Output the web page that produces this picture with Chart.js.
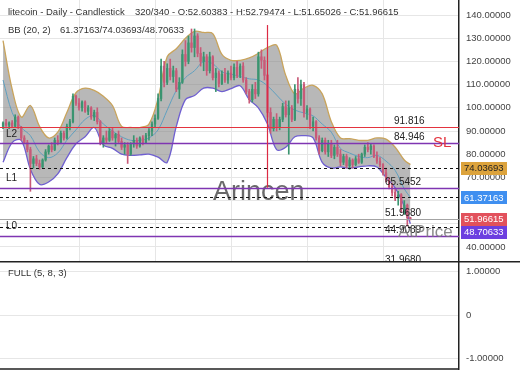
<!DOCTYPE html>
<html>
<head>
<meta charset="utf-8">
<script src="https://cdn.jsdelivr.net/npm/chart.js@4.4.1/dist/chart.umd.min.js"></script>
<style>
  html, body { margin: 0; padding: 0; background: #fff; }
  #wrap { position: relative; width: 520px; height: 390px; overflow: hidden; background: #fff; }
  #price { position: absolute; left: 0; top: 0; }
  #osc { position: absolute; left: 0; top: 261px; }
</style>
</head>
<body>
<div id="wrap">
  <canvas id="price" width="520" height="262"></canvas>
  <canvas id="osc" width="520" height="129"></canvas>
</div>
<script>
// candles, one per day (index = position on the x axis)
var opens = [92,93.5,92.5,93.5,92,96,91.5,87,85,82,
  76,78,76,74.5,77.5,81,83.5,82,86,85,
  89,87,92,94,105,102,100,102.5,98.5,100,
  96,98,94,85,87,86,90,87,88.5,85.5,
  83,84,80,84.5,86,83.5,87,85,88,90,
  93,95.5,104,118,111,117,113.5,116,108,111,
  123,120,128,126,131,123.5,120,122,116,122,
  113,115,110.5,114.5,112,115,113,117.5,114,118,
  112,107,103.5,108,106,122,120.5,114,98,91,
  95,91.5,95,100.5,97,100,95,108,104,110,
  98,99.5,92,94,87,81.5,86,81,84.5,79.5,
  83,80,76.5,79,75,77.5,75.5,78,76.5,80,
  83,82,83.5,79,77,75.5,72,69,66,63.5,
  61,62.5,56.5,58,52.60383];
var highs = [94,95,94,94.5,97,96.5,92,88,86,83,
  79,79.5,77.5,78,82,84,85,87,88,90,
  90,93,95,106,105.5,104,103,103,101,100.5,
  99,100,94.5,88,90,91,91.5,89,90,87,
  85,85,85,88,87,87.5,88,89,91,94,
  97,106,121,120,119,121,118,117,113,125,
  129,131,134,134,132,126,124,123,124,122.5,
  117,116,116,117,116,118,119,120,119,119.5,
  113,108,110,111,124,125,122,114.5,100,96,
  97.5,96,102,103,103,101,110,113,112,111,
  101,100,96,94.5,88,87,87,86,86,84,
  86,82,80,80,78.5,78,79,80,80.5,84,
  85,84.5,84,81,78.5,76,74,70,67.5,65,
  64,63,60,58.5,52.79474];
var lows = [91,92,91,91.5,91.5,91,86,84.5,81,64,
  74,75,73.5,74,77,80,81,81.5,84,84.5,
  86,86.5,90.5,93.5,101,99,98.5,98,97,95,
  94.5,93,84,83,85,85.5,86,83.5,85,82,
  80,76,79.5,83,82.5,83,84,84.5,86,88,
  91.5,95,103,109,110,112,111,107,104,110.5,
  118,119,124,122,122,118,116,114,115,112,
  107,109,110,111,110.5,112,112,113,113,111,
  106,102,102.5,104,105,117,112,96,89,90,
  90,90.5,94,96,80,94,94.5,102,101,96,
  95,91,90,86,80,81,80,79,78.5,78,
  79,75,75.5,74,73.5,74,75,76,76,79,
  81,80,78.5,76,74.5,71,68,65,62,60,
  58,55,54,49,51.65026];
var closes = [93.5,92.5,93.5,92,96,91.5,87,85,82,76,
  78,76,74.5,77.5,81,83.5,82,86,85,89,
  87,92,94,105,102,100,102.5,98.5,100,96,
  98,94,85,87,86,90,87,88.5,85.5,83,
  84,80,84.5,86,83.5,87,85,88,90,93,
  95.5,104,118,111,117,113.5,116,108,111,123,
  120,128,126,131,123.5,120,122,116,122,113,
  115,110.5,114.5,112,115,113,117.5,114,118,112,
  107,103.5,108,106,122,120.5,114,98,91,95,
  91.5,95,100.5,97,100,95,108,104,110,98,
  99.5,92,94,87,81.5,86,81,84.5,79.5,83,
  80,76.5,79,75,77.5,75.5,78,76.5,80,83,
  82,83.5,79,77,75.5,72,69,66,63.5,61,
  62.5,56.5,58,52.6,51.96615];

// Bollinger band (20, 2) every third day
var bbIdx = [0,3,6,9,12,15,18,21,24,27,30,33,36,39,42,45,48,51,54,57,60,63,66,69,72,75,78,81,84,87,90,93,96,99,102,105,108,111,114,117,120,123,126,129,132,134];
var bbUpper = [129,108,96,101,92,87,89.5,98,106.5,108.5,107.5,105,101,92,91.5,91.5,93,104,122,125.5,
  130,133,132.5,132,123,120.5,120.5,121.5,123.5,126,127,114,106,108.5,109.7,106,94,87,86.7,86,
  86,87,86.5,83,77.5,75.5];
var bbMiddle = [112,98,91.5,88,81,78.5,80.5,86,90.5,95,96.7,93,90,87.5,86,86,87,90.5,99,107.5,
  113,116,120,119,115.5,114.5,113.5,112.5,112,109.5,105.5,101.5,99,97.8,96.5,93,89.5,82.5,80.5,79,
  78.5,79.5,77,73,65,61.4];
var bbLower = [76.5,85,86,73.5,67,68,71.5,78.5,84.5,87.5,91.5,84,82.5,80,79.5,79.7,80,78.7,76.5,92,
  103.5,105.3,108.5,108.5,107,108.3,109.5,103.5,100,93,82,83,87.5,88,87,76.5,74,74.5,74,74.5,
  75,74.5,70,65.5,57.5,50];
var bbLast = [74.03693, 61.37163, 48.70633];

// horizontal levels and their labels
var levelValues = [91.816, 84.946, 65.5452, 51.96615, 44.9089, 31.968];
var levelTexts = ['91.816', '84.946', '65.5452', '51.9680', '44.9089', '31.9680'];
var zoneNames = ['L2', 'L1', 'L0'];
var zoneAt = [88.7, 69.7, 49.0];
var tagValues = [74.03693, 61.37163, 51.96615, 48.70633];
var crossIdx = 87, crossFrom = 135.7, crossTo = 65.5452;
var oscTicks = [-1, 0, 1];

var FONT = '"Liberation Sans", Arial, sans-serif';
Chart.defaults.font.family = FONT;
Chart.defaults.font.size = 9.5;
Chart.defaults.color = '#444';

var UP = '#3a9470', DOWN = '#c85a78';
function candleColor(c) {
  return closes[c.dataIndex] >= opens[c.dataIndex] ? UP : DOWN;
}

// styles for the level lines
var levelStroke = ['#e3343f', '#7f35b2', '#7f35b2', '#a3a3a3', '#7f35b2', '#a3a3a3'];
var levelWidth = [1.2, 1.5, 1.5, 1, 1.5, 1];
var levelLabelX = [394, 394, 385, 385, 385, 385];
var tagFill = ['#dca33c', '#3f8ff0', '#e2515c', '#6d3fe0'];
var tagText = ['#222', '#fff', '#fff', '#fff'];

var overlay = {
  id: 'overlay',
  beforeDatasetsDraw: function (chart) {
    var ctx = chart.ctx;
    ctx.save();
    ctx.textBaseline = 'middle';
    ctx.font = '27px ' + FONT;
    ctx.fillStyle = 'rgba(80,80,80,0.85)';
    ctx.fillText('Arincen', 213, 193);
    ctx.restore();
  },
  afterDatasetsDraw: function (chart) {
    var ctx = chart.ctx, a = chart.chartArea;
    var sx = chart.scales.x, sy = chart.scales.y;
    ctx.save();
    ctx.beginPath();
    ctx.rect(a.left, a.top, a.right - a.left, a.bottom - a.top + 4);
    ctx.clip();

    // dashed lines at last BB values
    ctx.strokeStyle = '#111';
    ctx.lineWidth = 1;
    ctx.setLineDash([3, 3]);
    bbLast.forEach(function (v) {
      var y = Math.round(sy.getPixelForValue(v)) + 0.5;
      ctx.beginPath(); ctx.moveTo(a.left, y); ctx.lineTo(a.right, y); ctx.stroke();
    });
    ctx.setLineDash([]);

    levelValues.forEach(function (v, k) {
      var y = Math.round(sy.getPixelForValue(v)) + 0.5;
      ctx.strokeStyle = levelStroke[k];
      ctx.lineWidth = levelWidth[k];
      ctx.beginPath(); ctx.moveTo(a.left, y); ctx.lineTo(a.right, y); ctx.stroke();
      ctx.fillStyle = '#222';
      ctx.font = '10px ' + FONT;
      ctx.textBaseline = 'bottom';
      ctx.fillText(levelTexts[k], levelLabelX[k], y - 1);
    });

    // vertical marker
    var cx = Math.round(sx.getPixelForValue(crossIdx)) + 0.5;
    ctx.strokeStyle = '#dc2a44';
    ctx.lineWidth = 1.2;
    ctx.beginPath();
    ctx.moveTo(cx, sy.getPixelForValue(crossFrom));
    ctx.lineTo(cx, sy.getPixelForValue(crossTo));
    ctx.stroke();

    ctx.fillStyle = '#222';
    ctx.font = '10px ' + FONT;
    ctx.textBaseline = 'middle';
    zoneNames.forEach(function (n, k) {
      ctx.fillText(n, 6, sy.getPixelForValue(zoneAt[k]));
    });

    ctx.fillStyle = '#e3343f';
    ctx.font = '15px ' + FONT;
    ctx.textBaseline = 'alphabetic';
    ctx.fillText('SL', 433, sy.getPixelForValue(levelValues[1]) + 4);

    ctx.fillStyle = 'rgba(120,120,120,0.85)';
    ctx.font = '17px ' + FONT;
    ctx.textBaseline = 'middle';
    ctx.fillText('AtPrice', 398, 232);
    ctx.restore();
  },
  afterDraw: function (chart) {
    var ctx = chart.ctx, a = chart.chartArea, sy = chart.scales.y;
    ctx.save();
    ctx.font = '9.5px ' + FONT;
    ctx.textBaseline = 'middle';
    var prevBottom = -100;
    tagValues.forEach(function (v, k) {
      var y = sy.getPixelForValue(v);
      if (y - 6.5 < prevBottom) y = prevBottom + 6.5;
      prevBottom = y + 6.5;
      ctx.fillStyle = tagFill[k];
      ctx.fillRect(a.right + 2, Math.round(y - 6.5), 46, 13);
      ctx.fillStyle = tagText[k];
      ctx.fillText(v.toFixed(5), a.right + 5, y + 0.5);
    });

    ctx.fillStyle = '#333';
    ctx.fillText('litecoin - Daily - Candlestick', 8, 12);
    ctx.fillText('320/340 - O:52.60383 - H:52.79474 - L:51.65026 - C:51.96615', 135, 12);
    ctx.fillText('BB (20, 2)', 8, 30);
    ctx.fillText('61.37163/74.03693/48.70633', 60, 30);
    ctx.restore();
  }
};

function noPad(s) { s.paddingTop = 0; s.paddingBottom = 0; s.paddingLeft = 0; s.paddingRight = 0; }

new Chart(document.getElementById('price'), {
  type: 'bar',
  data: {
    datasets: [
      { type: 'line', data: bbIdx.map(function (x, k) { return { x: x, y: bbUpper[k] }; }),
        borderColor: '#c9a45c', borderWidth: 1.3, pointRadius: 0, tension: 0.35,
        fill: '+2', backgroundColor: 'rgba(128,128,128,0.56)', order: 5 },
      { type: 'line', data: bbIdx.map(function (x, k) { return { x: x, y: bbMiddle[k] }; }),
        borderColor: '#5f9fbf', borderWidth: 1, pointRadius: 0, tension: 0.35, fill: false, order: 4 },
      { type: 'line', data: bbIdx.map(function (x, k) { return { x: x, y: bbLower[k] }; }),
        borderColor: '#6f5fd0', borderWidth: 1.3, pointRadius: 0, tension: 0.35, fill: false, order: 4 },
      { type: 'bar', data: highs.map(function (h, i) { return { x: i, y: [lows[i], h] }; }),
        backgroundColor: candleColor, barThickness: 1, grouped: false, order: 2 },
      { type: 'bar', data: opens.map(function (o, i) { return { x: i, y: [o, closes[i]] }; }),
        backgroundColor: candleColor, barThickness: 1.6, minBarLength: 1, grouped: false, order: 1 }
    ]
  },
  options: {
    responsive: false,
    animation: false,
    layout: { padding: 0 },
    plugins: { legend: { display: false }, tooltip: { enabled: false } },
    scales: {
      x: {
        type: 'linear', min: -1, max: 150, offset: false,
        grid: { color: '#e6e6e6', drawTicks: false, offset: false },
        border: { display: false },
        ticks: { display: false, stepSize: 25 },
        afterBuildTicks: function (s) {
          s.ticks = s.ticks.filter(function (t) { return t.value >= 0 && t.value < 150 && t.value % 25 === 0; });
        },
        afterFit: function (s) { s.height = 0; noPad(s); }
      },
      y: {
        position: 'right', min: 33.5, max: 146.5,
        grid: { color: '#e6e6e6', drawTicks: false },
        border: { display: true, color: '#222', width: 1.5 },
        ticks: { stepSize: 10, padding: 7, color: '#444', callback: function (v) { return v.toFixed(5); } },
        afterBuildTicks: function (s) {
          s.ticks = s.ticks.filter(function (t) { return t.value % 10 === 0; });
        },
        afterFit: function (s) { s.width = 61; noPad(s); }
      }
    }
  },
  plugins: [overlay]
});

var oscFrame = {
  id: 'oscFrame',
  afterDraw: function (chart) {
    var ctx = chart.ctx, a = chart.chartArea;
    ctx.save();
    ctx.strokeStyle = '#222';
    ctx.lineWidth = 1.5;
    ctx.beginPath();
    ctx.moveTo(0, 0.75); ctx.lineTo(520, 0.75);
    ctx.moveTo(0, a.bottom); ctx.lineTo(a.right, a.bottom);
    ctx.stroke();
    ctx.fillStyle = '#333';
    ctx.font = '9.5px ' + FONT;
    ctx.textBaseline = 'middle';
    ctx.fillText('FULL (5, 8, 3)', 8, 12);
    ctx.restore();
  }
};

new Chart(document.getElementById('osc'), {
  type: 'line',
  data: { datasets: [] },
  options: {
    responsive: false,
    animation: false,
    layout: { padding: { bottom: 21 } },
    plugins: { legend: { display: false }, tooltip: { enabled: false } },
    scales: {
      x: { type: 'linear', min: -1, max: 150, display: false },
      y: {
        position: 'right', min: -1.25, max: 1.25,
        grid: { color: '#e6e6e6', drawTicks: false },
        border: { display: true, color: '#222', width: 1.5 },
        ticks: { padding: 7, color: '#444', callback: function (v) { return v === 0 ? '0' : v.toFixed(5); } },
        afterBuildTicks: function (s) {
          s.ticks = oscTicks.map(function (v) { return { value: v }; });
        },
        afterFit: function (s) { s.width = 61; noPad(s); }
      }
    }
  },
  plugins: [oscFrame]
});
</script>
</body>
</html>
